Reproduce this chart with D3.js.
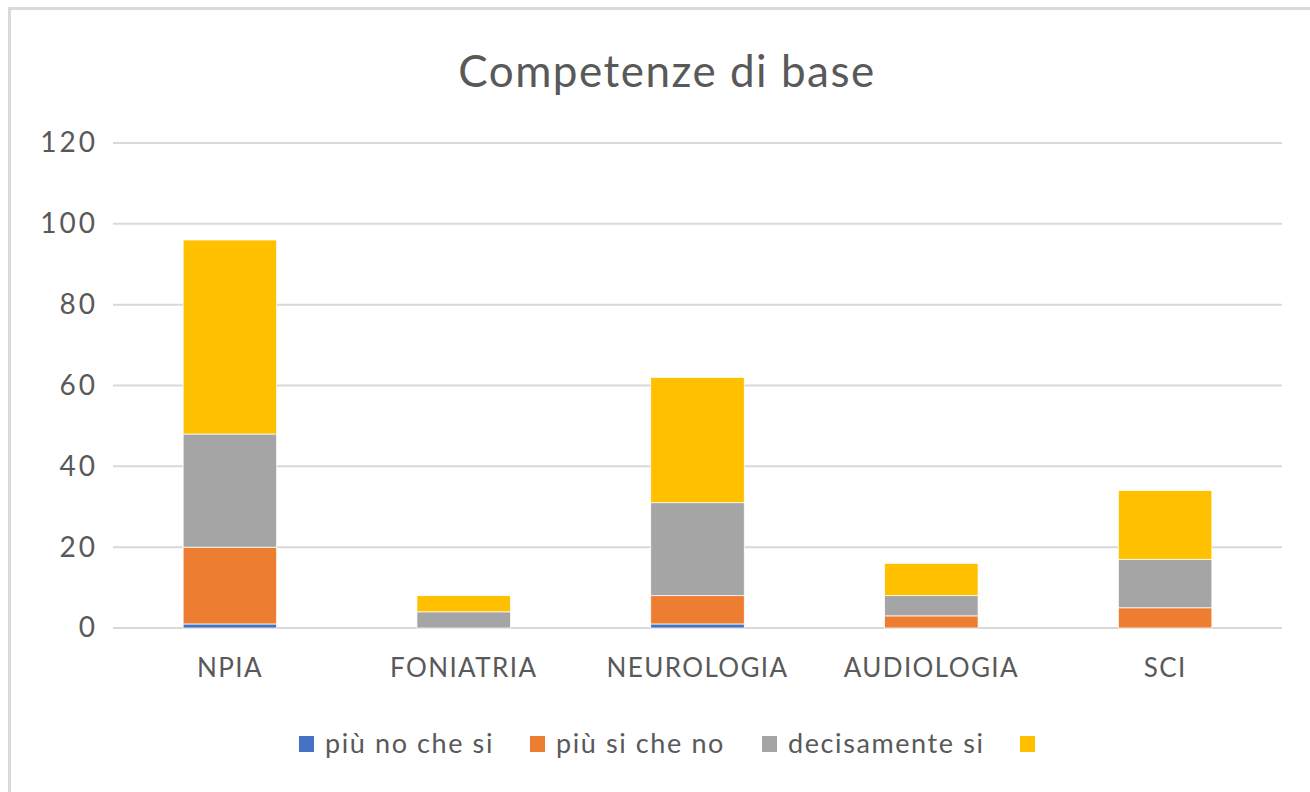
<!DOCTYPE html>
<html>
<head>
<meta charset="utf-8">
<script src="https://cdn.jsdelivr.net/npm/d3@7"></script>
<style>
  body { margin: 0; background: #fff; }
  text { font-family: Lato, "Open Sans", sans-serif; fill: #595959; }
</style>
</head>
<body>
<svg id="chart" width="1310" height="792"></svg>
<script>
const categories = ["NPIA", "FONIATRIA", "NEUROLOGIA", "AUDIOLOGIA", "SCI"];
const seriesNames = ["più no che si", "più si che no", "decisamente si", ""];
const piuNoCheSi = [1, 0, 1, 0, 0];
const piuSiCheNo = [19, 0, 7, 3, 5];
const decisamenteSi = [28, 4, 23, 5, 12];
const quarta = [48, 4, 31, 8, 17];
const yTicks = [0, 20, 40, 60, 80, 100, 120];
const colors = ["#4472c4", "#ed7d31", "#a5a5a5", "#ffc000"];

const svg = d3.select("#chart");

// cornice
svg.append("rect")
  .attr("x", 9.5).attr("y", 8.5)
  .attr("width", 1320).attr("height", 800)
  .attr("fill", "#fff")
  .attr("stroke", "#d9d9d9").attr("stroke-width", 3);

const margin = {left: 113, right: 1282, top: 143, bottom: 628};

const x = d3.scaleBand().domain(categories)
  .range([margin.left, margin.right])
  .paddingInner(0.6).paddingOuter(0.3);
const y = d3.scaleLinear().domain([0, 120]).range([margin.bottom, margin.top]);

svg.append("text")
  .attr("x", 667).attr("y", 87)
  .attr("text-anchor", "middle")
  .style("font-size", "44px")
  .style("letter-spacing", "1.5px")
  .text("Competenze di base");

// griglia
svg.append("g").selectAll("line")
  .data(yTicks).enter().append("line")
  .attr("x1", margin.left).attr("x2", margin.right)
  .attr("y1", d => y(d)).attr("y2", d => y(d))
  .attr("stroke", "#d9d9d9").attr("stroke-width", 2);

const yAxis = svg.append("g")
  .attr("transform", `translate(${margin.left - 15},0)`)
  .call(d3.axisLeft(y).tickValues(yTicks).tickSize(0).tickPadding(0));
yAxis.select(".domain").remove();
yAxis.selectAll("text")
  .style("font-size", "28px").style("font-family", "Lato")
  .style("letter-spacing", "3px")
  .attr("fill", "#595959");

const xAxis = svg.append("g")
  .attr("transform", `translate(0,${margin.bottom + 31})`)
  .call(d3.axisBottom(x).tickSize(0).tickPadding(0));
xAxis.select(".domain").remove();
xAxis.selectAll("text")
  .style("font-size", "26px").style("font-family", "Lato")
  .style("letter-spacing", "1.4px")
  .attr("fill", "#595959")
  .attr("dy", "0.71em");

const rows = categories.map((c, i) => ({
  cat: c, s0: piuNoCheSi[i], s1: piuSiCheNo[i], s2: decisamenteSi[i], s3: quarta[i]
}));
const stack = d3.stack().keys(["s0", "s1", "s2", "s3"])(rows);

svg.append("g").selectAll("g")
  .data(stack).enter().append("g")
  .attr("fill", (d, i) => colors[i])
  .selectAll("rect")
  .data(d => d).enter().append("rect")
  .attr("x", d => x(d.data.cat))
  .attr("width", x.bandwidth())
  .attr("y", d => y(d[1]))
  .attr("height", d => y(d[0]) - y(d[1]))
  .attr("stroke", "#fff").attr("stroke-width", 0.75);

// legenda
const legendX = [299, 530, 762, 1020];
const leg = svg.append("g").selectAll("g")
  .data(seriesNames).enter().append("g")
  .attr("transform", (d, i) => `translate(${legendX[i]},736)`);
leg.append("rect").attr("width", 15).attr("height", 16)
  .attr("fill", (d, i) => colors[i]);
leg.append("text").attr("x", 26).attr("y", 8).attr("dy", "0.35em")
  .style("font-size", "27px")
  .style("letter-spacing", "1.6px")
  .text(d => d);
</script>
</body>
</html>
